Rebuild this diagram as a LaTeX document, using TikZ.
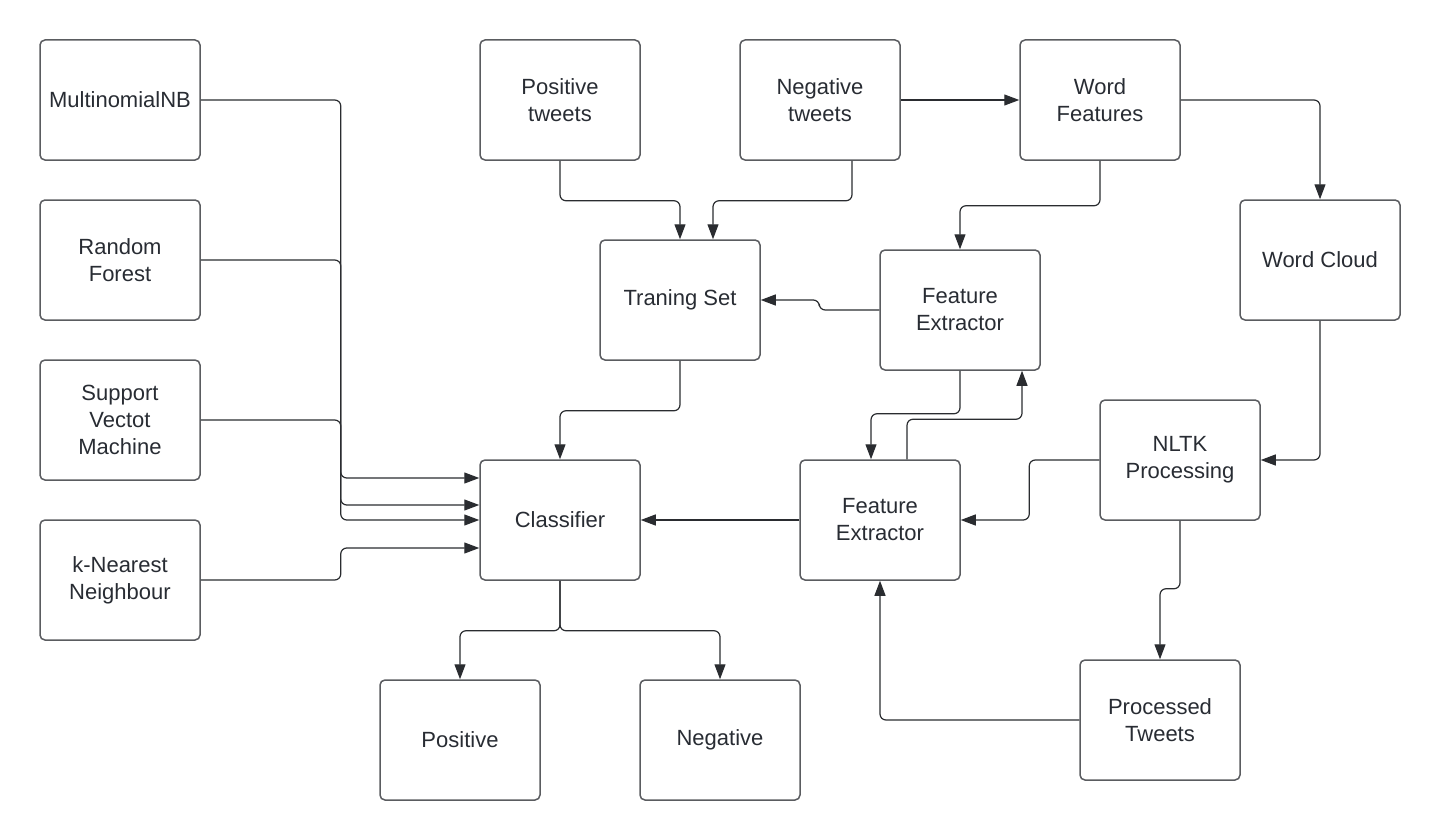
\documentclass[tikz,border=0pt]{standalone}
\usepackage{fontspec}
\setmainfont{Liberation Sans}
\usepackage{tikz}
\usetikzlibrary{positioning, calc, arrows.meta}

\definecolor{boxline}{HTML}{5A5C60}
\definecolor{txt}{HTML}{282C33}
\definecolor{wire}{HTML}{2A2C30}

\begin{document}
\begin{tikzpicture}[x=0.5pt, y=-0.5pt,
    box/.style={draw=boxline, line width=0.75pt, rounded corners=2.5pt,
        minimum width=80pt, minimum height=60pt, align=center, text=txt,
        font=\fontsize{11}{13.5}\selectfont},
    conn/.style={draw=wire, line width=0.6pt, rounded corners=3pt,
        -{Triangle[length=7.5pt, width=5.5pt]}}]

    \useasboundingbox (0,0) rectangle (1440,840);

    % classifiers on the left
    \node[box] (mnb) at (120,100) {MultinomialNB};
    \node[box] (rf)  at (120,260) {Random\\Forest};
    \node[box] (svm) at (120,420) {Support\\Vectot\\Machine};
    \node[box] (knn) at (120,580) {k-Nearest\\Neighbour};

    % tweets and features
    \node[box] (post) at (560,100)  {Positive\\tweets};
    \node[box] (negt) at (820,100)  {Negative\\tweets};
    \node[box] (wf)   at (1100,100) {Word\\Features};
    \node[box] (wc)   at (1320,260) {Word Cloud};
    \node[box] (train) at (680,300) {Traning Set};
    \node[box] (fe1)  at (960,310)  {Feature\\Extractor};
    \node[box] (nltk) at (1180,460) {NLTK\\Processing};

    % middle and bottom
    \node[box] (clf)  at (560,520)  {Classifier};
    \node[box] (fe2)  at (880,520)  {Feature\\Extractor};
    \node[box] (pos)  at (460,740)  {Positive};
    \node[box] (neg)  at (720,740)  {Negative};
    \node[box] (proc) at (1160,720) {Processed\\Tweets};

    % models into classifier
    \draw[conn] (mnb.east) -- ++(140,0) |- ($(clf.west)+(0,-42)$);
    \draw[conn] (rf.east) -- ++(140,0) |- ($(clf.west)+(0,-15)$);
    \draw[conn] (svm.east) -- ++(140,0) |- (clf.west);
    \draw[conn] (knn.east) -- ++(140,0) |- ($(clf.west)+(0,28)$);

    % tweets into training set
    \draw[conn] (post.south) -- ++(0,40) -| (train.north);
    \draw[conn] ($(negt.south)+(32,0)$) -- ++(0,40) -| ($(train.north)+(33,0)$);
    \draw[conn] (negt.east) -- (wf.west);

    % word features
    \draw[conn] (wf.east) -| (wc.north);
    \draw[conn] (wf.south) -- ++(0,45) -| (fe1.north);
    \draw[conn] (fe1.west) -- ++(-60,0) |- (train.east);
    \draw[conn] (train.south) -- ++(0,50) -| (clf.north);

    % the two extractors
    \draw[conn] (fe1.south) -- ++(0,43) -| ($(fe2.north)+(-9,0)$);
    \draw[conn] ($(fe2.north)+(27,0)$) -- ++(0,-40) -| ($(fe1.south)+(62,0)$);

    % nltk side
    \draw[conn] (wc.south) |- (nltk.east);
    \draw[conn] (nltk.west) -- ++(-70,0) |- (fe2.east);
    \draw[conn] (nltk.south) -- ++(0,68) -| (proc.north);
    \draw[conn] (proc.west) -| (fe2.south);
    \draw[conn] (fe2.west) -- (clf.east);

    % outputs
    \draw[conn] (clf.south) -- ++(0,50) -| (pos.north);
    \draw[conn] (clf.south) -- ++(0,50) -| (neg.north);

\end{tikzpicture}
\end{document}
